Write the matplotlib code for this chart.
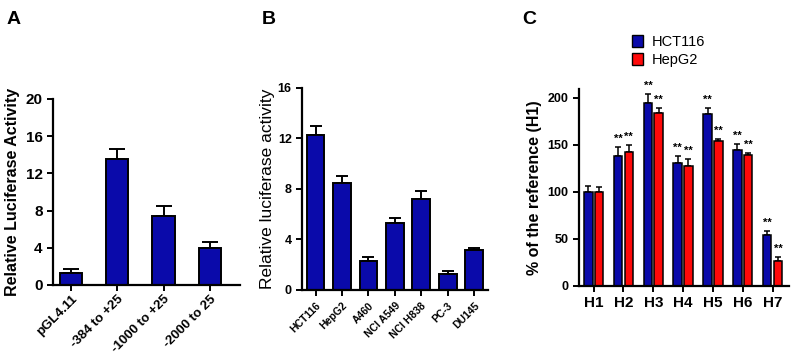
import matplotlib
matplotlib.use("Agg")
import matplotlib.pyplot as plt
import numpy as np
from matplotlib.patches import Patch

plt.rcParams['font.family'] = ['Liberation Sans', 'DejaVu Sans']

# Panel A data
a_labels = ["pGL4.11", "-384 to +25", "-1000 to +25", "-2000 to 25"]
a_vals = [1.3, 13.6, 7.4, 4.0]
a_err = [0.4, 1.0, 1.1, 0.6]

# Panel B data
b_labels = ["HCT116", "HepG2", "A460", "NCI A549", "NCI H838", "PC-3", "DU145"]
b_vals = [12.3, 8.5, 2.3, 5.3, 7.2, 1.3, 3.2]
b_err = [0.7, 0.5, 0.3, 0.4, 0.6, 0.2, 0.1]

# Panel C data
c_labels = ["H1", "H2", "H3", "H4", "H5", "H6", "H7"]
c_hct = [100, 138, 195, 131, 183, 145, 54]
c_hct_err = [6, 10, 9, 7, 6, 6, 4]
c_hep = [100, 142, 184, 128, 154, 139, 27]
c_hep_err = [5, 8, 5, 7, 2, 2, 4]
c_hct_sig = ["", "**", "**", "**", "**", "**", "**"]
c_hep_sig = ["", "**", "**", "**", "**", "**", "**"]

BLUE = "#0a0aaa"
RED = "#ff0a0a"

fig = plt.figure(figsize=(7.95, 3.57), dpi=100)


def style(ax):
    for s in ["top", "right"]:
        ax.spines[s].set_visible(False)
    for s in ["left", "bottom"]:
        ax.spines[s].set_linewidth(1.6)
    ax.tick_params(width=1.4, length=4, direction="out")
    for t in ax.get_yticklabels():
        t.set_fontweight("bold")
    for t in ax.get_xticklabels():
        t.set_fontweight("bold")


# Panel A
axA = fig.add_axes([0.0667, 0.2017, 0.235, 0.521])
xa = np.arange(len(a_vals))
axA.bar(xa, a_vals, width=0.48, color=BLUE, edgecolor="black", linewidth=1.4, zorder=2)
axA.errorbar(xa, a_vals, yerr=[np.zeros(len(a_err)), a_err], fmt="none", ecolor="black",
             elinewidth=1.4, capsize=6, capthick=1.4, zorder=1)
axA.set_xlim(-0.39, 3.65)
axA.set_ylim(0, 20)
axA.set_yticks([0, 4, 8, 12, 16, 20])
axA.set_xticks(xa)
axA.set_xticklabels(a_labels, rotation=45, ha="right", rotation_mode="anchor", fontsize=9.5)
axA.tick_params(axis="y", labelsize=11)
axA.tick_params(axis="x", pad=2)
axA.set_ylabel("Relative Luciferase Activity", fontsize=11.5, fontweight="bold", labelpad=4)
style(axA)

# Panel B
axB = fig.add_axes([0.380, 0.1877, 0.234, 0.566])
xb = np.arange(len(b_vals))
axB.bar(xb, b_vals, width=0.67, color=BLUE, edgecolor="black", linewidth=1.4, zorder=2)
axB.errorbar(xb, b_vals, yerr=[np.zeros(len(b_err)), b_err], fmt="none", ecolor="black",
             elinewidth=1.4, capsize=4, capthick=1.4, zorder=1)
axB.set_xlim(-0.51, 6.53)
axB.set_ylim(0, 16)
axB.set_yticks([0, 4, 8, 12, 16])
axB.set_xticks(xb)
axB.set_xticklabels(b_labels, rotation=45, ha="right", rotation_mode="anchor", fontsize=7.5)
axB.tick_params(axis="y", labelsize=9)
axB.set_ylabel("Relative luciferase activity", fontsize=12.5, labelpad=2)
style(axB)

# Panel C
axC = fig.add_axes([0.728, 0.199, 0.264, 0.553])
xc = np.arange(len(c_labels))
w = 0.29
off = 0.18
axC.bar(xc - off, c_hct, width=w, color=BLUE, edgecolor="black", linewidth=1.1, zorder=2, label="HCT116")
axC.bar(xc + off, c_hep, width=w, color=RED, edgecolor="black", linewidth=1.1, zorder=2, label="HepG2")
axC.errorbar(xc - off, c_hct, yerr=[np.zeros(len(c_hct)), c_hct_err], fmt="none", ecolor="black",
             elinewidth=1.1, capsize=2.5, capthick=1.1, zorder=1)
axC.errorbar(xc + off, c_hep, yerr=[np.zeros(len(c_hep)), c_hep_err], fmt="none", ecolor="black",
             elinewidth=1.1, capsize=2.5, capthick=1.1, zorder=1)
for i in range(len(c_labels)):
    if c_hct_sig[i]:
        axC.text(xc[i] - off, c_hct[i] + c_hct_err[i] + 9, c_hct_sig[i], ha="center", va="center",
                 fontsize=8, fontweight="bold")
    if c_hep_sig[i]:
        axC.text(xc[i] + off, c_hep[i] + c_hep_err[i] + 9, c_hep_sig[i], ha="center", va="center",
                 fontsize=8, fontweight="bold")
axC.set_xlim(-0.5, 6.54)
axC.set_ylim(0, 210)
axC.set_yticks([0, 50, 100, 150, 200])
axC.set_xticks(xc)
axC.set_xticklabels(c_labels, fontsize=11)
axC.tick_params(axis="y", labelsize=9)
axC.tick_params(axis="x", length=0)
axC.set_ylabel("% of the reference (H1)", fontsize=11.5, fontweight="bold", labelpad=4)
style(axC)
handles = [Patch(facecolor=BLUE, edgecolor="black", linewidth=1.0, label="HCT116"),
           Patch(facecolor=RED, edgecolor="black", linewidth=1.0, label="HepG2")]
fig.legend(handles=handles, loc="center left", bbox_to_anchor=(0.788, 0.857), frameon=False,
           fontsize=10.5, handlelength=0.75, handleheight=0.9, handletextpad=0.6, labelspacing=0.25,
           borderaxespad=0)

# Panel letters
fig.text(0.008, 0.945, "A", fontsize=14, fontweight="bold", va="center")
fig.text(0.329, 0.945, "B", fontsize=14, fontweight="bold", va="center")
fig.text(0.657, 0.945, "C", fontsize=14, fontweight="bold", va="center")

fig.savefig("out.png", dpi=100)
